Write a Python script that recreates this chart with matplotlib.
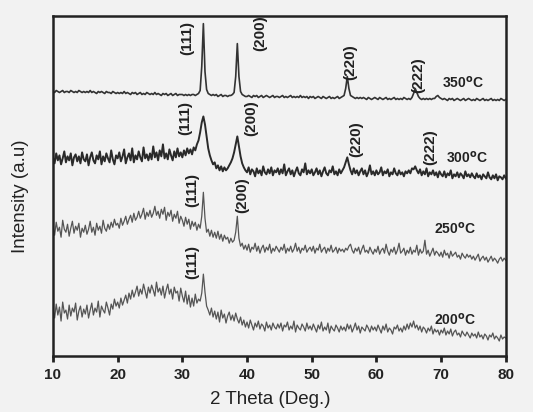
import numpy as np
import matplotlib
matplotlib.use("Agg")
import matplotlib.pyplot as plt

plt.rcParams['font.family'] = ['Liberation Sans', 'DejaVu Sans']

# 2-theta sampling (deg), 0.25 deg step from 10 to 80
two_theta = np.linspace(10, 80, 281)

# Intensity (a.u.), stacked curves
i_350 = (
    [265, 264, 266, 265, 264, 265, 266, 264, 265, 265, 264, 266, 265, 264, 265, 264, 266, 265, 264, 265] +
    [264, 265, 264, 266, 264, 265, 264, 263, 265, 264, 265, 264, 263, 265, 264, 264, 263, 265, 264, 263] +
    [264, 263, 264, 263, 265, 263, 264, 263, 262, 264, 263, 264, 262, 263, 264, 262, 263, 262, 264, 263] +
    [262, 263, 262, 264, 262, 263, 262, 261, 263, 262, 263, 261, 262, 263, 261, 262, 263, 261, 262, 262] +
    [262, 261, 262, 261, 262, 261, 262, 262, 261, 262, 263, 266, 290, 333, 285, 267, 263, 262, 261, 262] +
    [261, 262, 260, 261, 262, 260, 261, 261, 260, 261, 261, 262, 264, 280, 313, 280, 265, 262, 261, 260] +
    [260, 261, 260, 259, 261, 260, 261, 259, 260, 261, 259, 260, 261, 260, 259, 260, 261, 259, 260, 260] +
    [259, 260, 261, 259, 260, 259, 260, 261, 259, 260, 259, 260, 259, 261, 259, 260, 259, 260, 258, 260] +
    [259, 260, 258, 259, 260, 259, 258, 260, 259, 258, 259, 260, 258, 259, 258, 259, 260, 258, 259, 260] +
    [261, 268, 280, 268, 261, 260, 259, 258, 259, 258, 259, 258, 259, 258, 257, 259, 258, 257, 258, 259] +
    [258, 257, 259, 258, 257, 258, 259, 257, 258, 257, 258, 259, 257, 258, 257, 258, 257, 259, 258, 257] +
    [258, 257, 259, 263, 268, 264, 260, 258, 257, 258, 257, 258, 257, 258, 257, 258, 258, 260, 261, 259] +
    [258, 257, 258, 257, 256, 258, 257, 258, 256, 257, 258, 257, 256, 257, 258, 256, 257, 258, 257, 256] +
    [257, 256, 258, 257, 256, 257, 258, 256, 257, 256, 257, 258, 256, 257, 256, 257, 256, 258, 257, 256] +
    [257]
)

i_300 = (
    [199, 193, 203, 196, 201, 192, 198, 205, 194, 200, 196, 203, 191, 199, 202, 195, 200, 193, 204, 197] +
    [195, 202, 191, 199, 204, 196, 193, 201, 197, 205, 192, 200, 195, 203, 198, 194, 206, 197, 192, 201] +
    [198, 204, 195, 200, 207, 193, 199, 203, 196, 208, 194, 201, 197, 205, 199, 195, 209, 198, 202, 196] +
    [203, 197, 210, 199, 204, 196, 206, 200, 212, 198, 203, 197, 207, 201, 196, 205, 199, 208, 200, 204] +
    [199, 206, 201, 208, 203, 207, 202, 209, 206, 212, 216, 224, 234, 240, 232, 220, 208, 201, 196, 192] +
    [194, 188, 191, 186, 190, 185, 189, 186, 188, 191, 194, 198, 204, 212, 220, 210, 200, 193, 189, 186] +
    [184, 189, 182, 187, 185, 180, 188, 183, 186, 181, 190, 184, 182, 187, 183, 189, 181, 186, 184, 188] +
    [182, 187, 183, 192, 181, 185, 188, 182, 186, 180, 185, 189, 183, 181, 187, 184, 193, 182, 186, 183] +
    [187, 181, 184, 188, 182, 186, 180, 185, 189, 183, 181, 186, 184, 190, 182, 185, 181, 187, 183, 186] +
    [189, 194, 199, 192, 186, 182, 188, 183, 186, 181, 185, 188, 182, 186, 180, 184, 191, 182, 185, 181] +
    [186, 182, 184, 189, 181, 185, 183, 187, 180, 184, 182, 188, 183, 181, 186, 182, 184, 180, 185, 183] +
    [186, 183, 188, 187, 190, 186, 183, 187, 181, 185, 182, 188, 180, 184, 182, 186, 181, 184, 179, 185] +
    [182, 180, 185, 179, 183, 181, 186, 178, 182, 180, 184, 179, 183, 181, 178, 185, 180, 182, 179, 183] +
    [180, 178, 183, 179, 181, 177, 182, 180, 178, 184, 179, 177, 181, 178, 182, 176, 180, 179, 177, 181] +
    [178]
)

i_250 = (
    [130, 121, 134, 125, 129, 119, 136, 127, 124, 132, 120, 128, 135, 123, 130, 126, 133, 119, 128, 124] +
    [131, 122, 127, 135, 124, 129, 121, 133, 126, 130, 123, 136, 128, 125, 132, 127, 134, 129, 137, 131] +
    [133, 128, 138, 131, 135, 140, 132, 137, 141, 134, 143, 136, 139, 145, 138, 142, 148, 137, 144, 140] +
    [146, 139, 143, 150, 141, 145, 138, 147, 142, 149, 136, 144, 140, 146, 135, 142, 138, 145, 133, 140] +
    [136, 130, 139, 132, 137, 127, 135, 130, 134, 126, 132, 128, 140, 164, 138, 124, 127, 120, 126, 119] +
    [124, 118, 125, 117, 122, 115, 121, 117, 119, 113, 118, 114, 116, 124, 140, 118, 110, 113, 107, 111] +
    [106, 112, 104, 109, 107, 113, 105, 110, 103, 108, 111, 104, 109, 106, 112, 103, 108, 105, 110, 107] +
    [104, 109, 106, 112, 103, 108, 105, 110, 104, 107, 113, 105, 109, 103, 108, 106, 111, 104, 107, 109] +
    [105, 110, 103, 108, 106, 112, 104, 107, 109, 103, 108, 105, 111, 104, 106, 109, 103, 108, 105, 107] +
    [104, 108, 106, 110, 112, 106, 103, 108, 105, 109, 102, 107, 111, 104, 106, 103, 109, 105, 102, 107] +
    [104, 110, 102, 106, 108, 103, 112, 105, 101, 107, 104, 109, 102, 106, 113, 103, 105, 108, 101, 106] +
    [103, 109, 102, 106, 104, 111, 101, 107, 103, 105, 116, 102, 106, 100, 104, 108, 101, 105, 103, 100] +
    [104, 99, 106, 101, 103, 98, 105, 100, 102, 104, 99, 101, 97, 103, 100, 98, 102, 99, 101, 97] +
    [100, 96, 99, 102, 95, 98, 100, 96, 99, 94, 97, 100, 95, 98, 96, 93, 97, 99, 95, 98] +
    [96]
)

i_200 = (
    [47, 38, 52, 41, 49, 35, 54, 43, 46, 37, 51, 40, 48, 44, 53, 36, 45, 50, 39, 47] +
    [42, 51, 38, 46, 53, 41, 48, 44, 55, 39, 50, 46, 43, 54, 48, 41, 52, 47, 57, 50] +
    [54, 48, 58, 51, 56, 61, 53, 63, 57, 66, 59, 64, 70, 60, 67, 62, 72, 65, 58, 69] +
    [63, 71, 66, 60, 74, 64, 68, 61, 70, 58, 66, 72, 62, 67, 57, 69, 63, 65, 55, 68] +
    [60, 54, 65, 52, 61, 49, 58, 50, 62, 53, 57, 55, 63, 82, 64, 50, 46, 41, 48, 39] +
    [45, 37, 44, 34, 46, 38, 42, 33, 40, 44, 36, 41, 35, 43, 37, 33, 39, 31, 36, 29] +
    [34, 28, 36, 31, 26, 33, 29, 35, 27, 32, 30, 25, 34, 28, 31, 26, 33, 29, 27, 32] +
    [28, 33, 25, 31, 29, 34, 26, 30, 27, 35, 24, 31, 28, 26, 32, 29, 25, 33, 27, 30] +
    [26, 32, 28, 24, 31, 27, 34, 25, 29, 26, 33, 23, 30, 27, 25, 31, 28, 24, 30, 26] +
    [29, 25, 32, 27, 31, 24, 28, 33, 26, 30, 23, 29, 27, 25, 31, 28, 24, 30, 26, 29] +
    [25, 31, 27, 23, 30, 26, 32, 24, 28, 26, 22, 29, 27, 31, 25, 28, 24, 30, 26, 32] +
    [27, 33, 29, 35, 28, 31, 26, 30, 24, 29, 27, 23, 28, 25, 30, 22, 27, 24, 26, 21] +
    [26, 23, 28, 21, 25, 22, 27, 20, 24, 26, 21, 23, 19, 25, 22, 20, 24, 21, 18, 23] +
    [20, 22, 18, 24, 19, 21, 17, 22, 20, 16, 21, 19, 23, 17, 20, 18, 15, 21, 17, 19] +
    [18]
)

# Peak labels: (text, 2theta, intensity) per curve
peaks_350 = [("(111)", 30.75, 319), ("(200)", 42.1, 323), ("(220)", 56.0, 294), ("(222)", 66.5, 281)]
peaks_300 = [("(111)", 30.4, 238), ("(200)", 40.7, 238), ("(220)", 56.9, 217), ("(222)", 68.4, 209)]
peaks_250 = [("(111)", 31.5, 166), ("(200)", 39.3, 161)]
peaks_200 = [("(111)", 31.5, 94)]

temp_labels = [("350$^{\\mathbf{o}}$C", 70.2, 274), ("300$^{\\mathbf{o}}$C", 70.7, 199),
               ("250$^{\\mathbf{o}}$C", 68.9, 128), ("200$^{\\mathbf{o}}$C", 68.9, 36)]

x_ticks = [10, 20, 30, 40, 50, 60, 70, 80]

bg = '#f2f2f2'
fig = plt.figure(figsize=(5.33, 4.12), dpi=100, facecolor=bg)
ax = fig.add_axes([0.0994, 0.136, 0.8495, 0.826])
ax.set_facecolor(bg)

ax.plot(two_theta, i_350, color='#333333', lw=1.2)
ax.plot(two_theta, i_300, color='#2a2a2a', lw=1.4)
ax.plot(two_theta, i_250, color='#555555', lw=0.9)
ax.plot(two_theta, i_200, color='#555555', lw=0.9)

for group in (peaks_350, peaks_300, peaks_250, peaks_200):
    for txt, x, y in group:
        ax.text(x, y, txt, rotation=90, ha='center', va='center',
                fontsize=11, fontweight='bold', color='#222222')

for txt, x, y in temp_labels:
    ax.text(x, y, txt, ha='left', va='center', fontsize=10,
            fontweight='bold', color='#222222')

ax.set_xlim(10, 80)
ax.set_ylim(0, 341)
ax.set_xticks(x_ticks)
ax.set_yticks([])
ax.tick_params(axis='x', direction='out', length=4, width=2, pad=5,
               labelsize=11, colors='#222222')
for lab in ax.get_xticklabels():
    lab.set_fontweight('bold')
for sp in ax.spines.values():
    sp.set_linewidth(1.8)
    sp.set_color('#222222')

ax.set_xlabel("2 Theta (Deg.)", fontsize=13.5, color='#222222')
ax.xaxis.set_label_coords(0.48, -0.102)
ax.set_ylabel("Intensity (a.u)", fontsize=13.5, color='#222222')
ax.yaxis.set_label_coords(-0.052, 0.47)

fig.savefig("out.png", dpi=100, facecolor=bg)
